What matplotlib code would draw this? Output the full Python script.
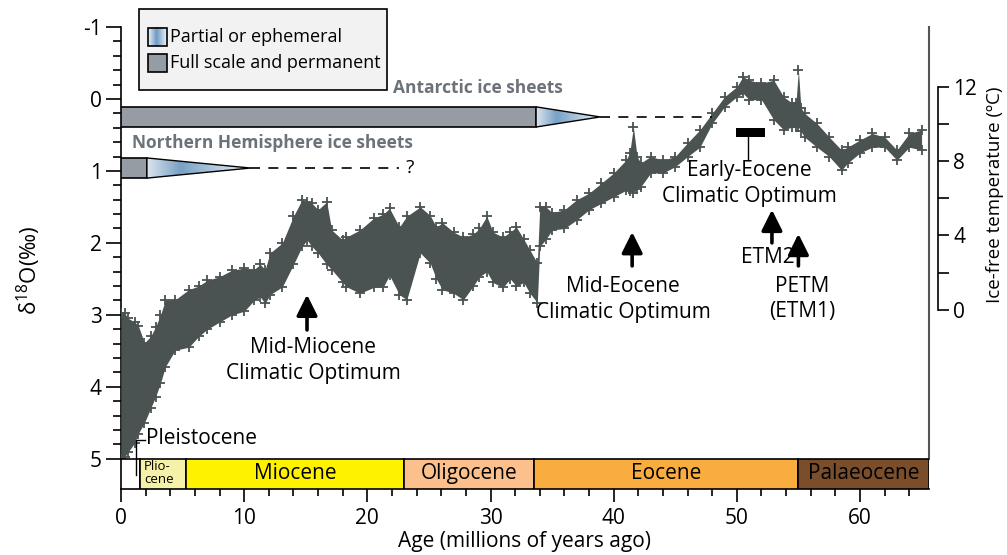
import numpy as np
import matplotlib
matplotlib.use("Agg")
import matplotlib.pyplot as plt
from matplotlib.patches import Rectangle, Polygon
from matplotlib.colors import LinearSegmentedColormap
from matplotlib.ticker import FixedLocator

plt.rcParams['font.family'] = ['Open Sans', 'DejaVu Sans']
plt.rcParams['mathtext.fontset'] = 'custom'
plt.rcParams['mathtext.rm'] = 'Open Sans'

# ----------------------------------------------------------
# deep-sea benthic d18O envelope (Ma, permil): upper / lower edge of the cloud
# ----------------------------------------------------------
age = [0.0, 0.3, 0.6, 1.1, 1.4, 1.9, 2.4, 2.8, 3.2, 3.6, 4.4, 5.5, 6.3, 7.0, 8.0, 9.0, 10.0,
       10.8, 11.3, 11.7, 12.1, 13.1, 14.0, 14.7, 15.1, 15.5, 16.0, 16.7, 17.1, 18.0, 18.3,
       19.4, 20.5, 21.3, 21.8, 22.6, 23.2, 24.3, 25.1, 25.6, 26.1, 27.0, 27.8, 28.6, 29.1,
       29.7, 30.2, 31.0, 31.6, 32.1, 32.7, 33.2, 33.8, 34.0, 34.5, 35.0, 36.0, 37.0, 38.0,
       39.0, 40.0, 41.0, 41.3, 41.6, 41.9, 42.2, 43.0, 44.0, 45.0, 46.0, 47.0, 48.0, 49.0,
       50.0, 50.5, 51.0, 52.0, 53.0, 53.8, 54.5, 54.8, 55.0, 55.2, 55.5, 56.5, 57.5, 58.5,
       59.0, 60.0, 61.0, 62.0, 63.0, 64.0, 65.0]
d18o_top = [2.97, 2.98, 3.05, 3.10, 3.15, 3.39, 3.30, 3.17, 3.00, 2.80, 2.79, 2.65, 2.60, 2.52, 2.47, 2.38, 2.35,
            2.37, 2.30, 2.37, 2.14, 2.00, 1.63, 1.40, 1.43, 1.45, 1.54, 1.43, 1.82, 1.96, 1.92,
            1.82, 1.66, 1.60, 1.52, 1.78, 1.63, 1.50, 1.62, 1.78, 1.72, 1.85, 1.92, 1.88, 1.80,
            1.63, 1.85, 1.92, 1.85, 1.78, 1.95, 2.10, 2.28, 1.50, 1.50, 1.58, 1.54, 1.40, 1.31,
            1.17, 1.03, 0.85, 0.75, 0.39, 0.80, 0.89, 0.80, 0.85, 0.80, 0.61, 0.43, 0.20, -0.03,
            -0.17, -0.31, -0.26, -0.22, -0.26, -0.03, 0.06, 0.05, -0.40, 0.12, 0.20, 0.34, 0.53, 0.71,
            0.67, 0.57, 0.48, 0.53, 0.71, 0.48, 0.43]
d18o_bot = [5.00, 4.97, 4.90, 4.78, 4.65, 4.50, 4.30, 4.14, 3.95, 3.72, 3.49, 3.45, 3.30, 3.20, 3.10, 3.00, 2.95,
            2.80, 2.75, 2.84, 2.72, 2.61, 2.30, 2.05, 1.96, 2.05, 2.14, 2.30, 2.37, 2.55, 2.61,
            2.70, 2.62, 2.61, 2.45, 2.72, 2.79, 2.14, 2.28, 2.50, 2.65, 2.70, 2.79, 2.60, 2.47,
            2.40, 2.55, 2.62, 2.50, 2.60, 2.55, 2.70, 2.83, 2.05, 1.95, 1.82, 1.80, 1.68, 1.54,
            1.45, 1.36, 1.27, 1.28, 1.31, 1.25, 1.22, 1.03, 1.03, 0.94, 0.80, 0.67, 0.34, 0.11,
            -0.03, -0.08, 0.01, 0.01, 0.29, 0.43, 0.39, 0.39, 0.39, 0.45, 0.53, 0.67, 0.80, 0.99,
            0.89, 0.75, 0.67, 0.67, 0.85, 0.67, 0.71]

# geological epochs (start, end, name, colour)
epoch_start = [0.0, 1.5, 5.3, 23.0, 33.5, 55.0]
epoch_end = [1.5, 5.3, 23.0, 33.5, 55.0, 65.6]
epoch_name = ["", "Plio-\ncene", "Miocene", "Oligocene", "Eocene", "Palaeocene"]
epoch_color = ["#ffffff", "#f6f1a8", "#fff200", "#fcc08c", "#f9ad3f", "#7a4e2b"]

# ice sheets: full-scale end, partial end, dashed end, d18O row
ant_full, ant_partial, ant_dash, ant_row = 33.7, 38.9, 48.0, 0.25
nh_full, nh_partial, nh_dash, nh_row = 2.1, 10.5, 22.6, 0.96

# ice-free temperature scale: T = T0 + SLOPE * d18O
T0, SLOPE = 11.34, -3.87

CLOUD = "#4a5351"
ICE_GRAY = "#959ca3"
ICE_LABEL = "#6b7279"
ice_cmap = LinearSegmentedColormap.from_list(
    "ice", [(0.0, "#dbe5ef"), (0.32, "#78a1c5"), (1.0, "#eef3f8")])

fig = plt.figure(figsize=(10.07, 5.55), dpi=100)
ax = fig.add_axes([0.1202, 0.1189, 0.8023, 0.8325])

# d18O cloud
ax.fill_between(age, d18o_top, d18o_bot, color=CLOUD, lw=0, zorder=3)
ax.plot(age, d18o_top, ls="none", marker="+", ms=7, mew=1.3, color=CLOUD, zorder=3)
ax.plot(age, d18o_bot, ls="none", marker="+", ms=7, mew=1.3, color=CLOUD, zorder=3)

# epoch bar along the bottom
for x0, x1, name, c in zip(epoch_start, epoch_end, epoch_name, epoch_color):
    ax.add_patch(Rectangle((x0, 5.0), x1 - x0, 0.42, facecolor=c,
                           edgecolor="black", lw=1.2, zorder=4))
    if name.startswith("Plio"):
        ax.text(x0 + 0.35, 5.02, name, fontsize=9.5, va="top", ha="left",
                linespacing=1.0, zorder=5, clip_on=True)
    elif name:
        ax.text((x0 + x1) / 2, 5.21, name, fontsize=15, va="center", ha="center", zorder=5)

# Pleistocene marker
ax.plot([1.2, 1.2, 1.95], [5.22, 4.74, 4.74], color="black", lw=1, zorder=5)
ax.text(2.05, 4.72, "Pleistocene", fontsize=15, va="center", ha="left")


def ice_sheet(x_full, x_part, x_dash, row, half):
    ax.add_patch(Rectangle((0, row - half), x_full, 2 * half, facecolor=ICE_GRAY,
                           edgecolor="black", lw=1.2, zorder=4))
    tri = Polygon([(x_full, row - half), (x_full, row + half), (x_part, row)],
                  closed=True, facecolor="none", edgecolor="black", lw=1.0, zorder=5)
    ax.add_patch(tri)
    grad = np.linspace(0, 1, 256).reshape(1, -1)
    im = ax.imshow(grad, extent=[x_full, x_part, row + half, row - half],
                   aspect="auto", cmap=ice_cmap, zorder=4)
    im.set_clip_path(tri)
    ax.plot([x_part, x_dash], [row, row], color="black", lw=1.2,
            dashes=(6, 5), zorder=4)


ice_sheet(ant_full, ant_partial, ant_dash, ant_row, 0.14)
ice_sheet(nh_full, nh_partial, nh_dash, nh_row, 0.14)
ax.text(35.9, -0.15, "Antarctic ice sheets", fontsize=12.5, fontweight="bold",
        color=ICE_LABEL, ha="right", va="center")
ax.text(0.9, 0.61, "Northern Hemisphere ice sheets", fontsize=12.5, fontweight="bold",
        color=ICE_LABEL, ha="left", va="center")
ax.text(nh_dash + 0.5, nh_row, "?", fontsize=14, ha="left", va="center")

# events
arrow = dict(arrowstyle="-|>,head_width=0.35,head_length=0.7", lw=2.6,
             color="black", shrinkA=0, shrinkB=0, mutation_scale=18)
ax.annotate("", xy=(15.1, 2.72), xytext=(15.1, 3.21), arrowprops=arrow)
ax.text(15.6, 3.63, "Mid-Miocene\nClimatic Optimum", fontsize=15, ha="center",
        va="center", linespacing=1.3)
ax.annotate("", xy=(41.5, 1.85), xytext=(41.5, 2.32), arrowprops=arrow)
ax.text(40.75, 2.79, "Mid-Eocene\nClimatic Optimum", fontsize=15, ha="center",
        va="center", linespacing=1.3)
ax.add_patch(Rectangle((49.9, 0.40), 2.4, 0.13, facecolor="black", zorder=5))
ax.plot([50.9, 50.9], [0.53, 0.85], color="black", lw=1)
ax.text(51.05, 1.18, "Early-Eocene\nClimatic Optimum", fontsize=15, ha="center",
        va="center", linespacing=1.3)
ax.annotate("", xy=(52.85, 1.54), xytext=(52.85, 2.0), arrowprops=arrow)
ax.text(52.5, 2.21, "ETM2", fontsize=15, ha="center", va="center")
ax.annotate("", xy=(55.0, 1.875), xytext=(55.0, 2.32), arrowprops=arrow)
ax.text(55.3, 2.78, "PETM\n(ETM1)", fontsize=15, ha="center", va="center",
        linespacing=1.3)

# legend box
ax.add_patch(Rectangle((0.0223, 0.864), 0.3067, 0.175, transform=ax.transAxes,
                       facecolor="#f2f2f2", edgecolor="black", lw=1.2,
                       clip_on=False, zorder=6))
sw = np.linspace(0, 1, 64)
sw = np.minimum(sw / 0.45, (1 - sw) / 0.55).reshape(1, -1)
leg_cmap = LinearSegmentedColormap.from_list("leg", ["#eef3f8", "#6f9bc3"])
ax.imshow(sw, extent=[0.0334, 0.0569, 0.959, 0.998], transform=ax.transAxes,
          aspect="auto", cmap=leg_cmap, zorder=7, clip_on=False)
ax.add_patch(Rectangle((0.0334, 0.959), 0.0235, 0.039, transform=ax.transAxes,
                       facecolor="none", edgecolor="black", lw=1.2, clip_on=False, zorder=8))
ax.add_patch(Rectangle((0.0334, 0.903), 0.0235, 0.039, transform=ax.transAxes,
                       facecolor=ICE_GRAY, edgecolor="black", lw=1.2, clip_on=False, zorder=8))
ax.text(0.061, 0.979, "Partial or ephemeral", transform=ax.transAxes, fontsize=13,
        va="center", ha="left", zorder=8)
ax.text(0.061, 0.923, "Full scale and permanent", transform=ax.transAxes, fontsize=13,
        va="center", ha="left", zorder=8)

# axes
ax.set_xlim(0, 65.6)
ax.set_ylim(5.42, -1)
ax.spines["top"].set_visible(False)
ax.spines["right"].set_color("#555555")
ax.spines["right"].set_linewidth(1.5)
ax.spines["right"].set_bounds(-1, 5)
for s in ("left", "bottom"):
    ax.spines[s].set_linewidth(1.2)

ax.set_yticks([-1, 0, 1, 2, 3, 4, 5])
ax.set_yticklabels(["-1", "0", "1", "2", "3", "4", "5"])
ax.yaxis.set_minor_locator(FixedLocator(np.arange(-1, 5.01, 0.2)))
ax.set_xticks([0, 10, 20, 30, 40, 50, 60])
ax.xaxis.set_minor_locator(FixedLocator(np.arange(0, 65, 2)))
ax.tick_params(axis="y", which="major", length=11, width=1.2, labelsize=15, pad=3)
ax.tick_params(axis="y", which="minor", length=6, width=1.2)
ax.tick_params(axis="x", which="major", length=9, width=1.2, labelsize=15, pad=5)
ax.tick_params(axis="x", which="minor", length=5, width=1.2)
ax.set_xlabel("Age (millions of years ago)", fontsize=15, labelpad=1)
ax.set_ylabel("δ$^{\\mathregular{18}}$O(‰)", fontsize=16)
ax.yaxis.set_label_coords(-0.097, 0.474)

# temperature scale on the right
ax2 = ax.twinx()
ax2.set_ylim(T0 + SLOPE * 5.42, T0 + SLOPE * -1)
for s in ("top", "left", "bottom"):
    ax2.spines[s].set_visible(False)
ax2.spines["right"].set_position(("outward", 6.5))
ax2.spines["right"].set_bounds(0, 12)
ax2.spines["right"].set_linewidth(1.2)
ax2.set_yticks([0, 4, 8, 12])
ax2.yaxis.set_minor_locator(FixedLocator([2, 6, 10]))
ax2.tick_params(axis="y", which="both", length=8, width=1.2, labelsize=15, pad=3)
ax2.set_ylabel("Ice-free temperature (ºC)", fontsize=13.5)
ax2.yaxis.set_label_coords(1.071, 0.636)

fig.savefig("out.png", dpi=100)
